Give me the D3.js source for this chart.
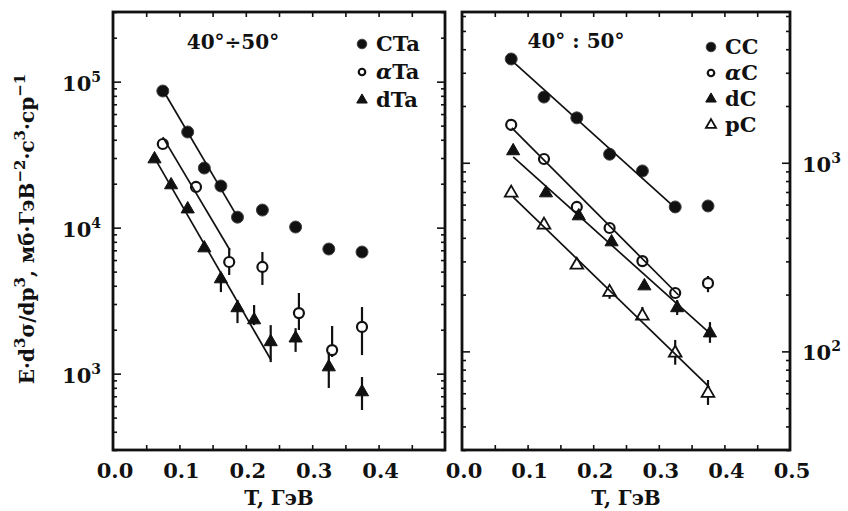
<!DOCTYPE html>
<html><head><meta charset="utf-8">
<script src="https://cdn.jsdelivr.net/npm/d3@7"></script>
<style>body{margin:0;background:#fff} svg{display:block}</style>
</head><body>
<svg id="c" width="848" height="511"></svg>
<script>
// ---------- data ----------
const xMajor = [0, 0.1, 0.2, 0.3, 0.4, 0.5];
const xAll = [0.05, 0.1, 0.15, 0.2, 0.25, 0.3, 0.35, 0.4, 0.45];
const leftXLabels = ["0.0", "0.1", "0.2", "0.3", "0.4"];
const rightXLabels = ["0.0", "0.1", "0.2", "0.3", "0.4", "0.5"];
const leftYTicks = [1e3, 1e4, 1e5];
const leftYExp = ["3", "4", "5"];
const rightYTicks = [1e2, 1e3];
const rightYExp = ["2", "3"];
const xTitle = "T, ГэВ";
const leftTitle = "40°÷50°";
const rightTitle = "40° : 50°";
const leftLegend = ["CTa", "αTa", "dTa"];
const rightLegend = ["CC", "αC", "dC", "pC"];

// left panel (Ta)
const ctaT = [0.075, 0.1125, 0.1375, 0.1625, 0.1875, 0.225, 0.275, 0.325, 0.375];
const ctaV = [86300, 45200, 25600, 19300, 11800, 13200, 10100, 7140, 6810];
const ctaFitT = [0.075, 0.19], ctaFitV = [88000, 11300];

const ataT = [0.075, 0.125, 0.175, 0.225, 0.28, 0.33, 0.375];
const ataV = [37400, 19000, 5820, 5380, 2600, 1450, 2090];
const ataHi = [null, null, 7250, 6810, 3570, 2120, 2860];
const ataLo = [null, null, 4740, 4050, 1990, 1300, 1340];
const ataFitT = [0.075, 0.176], ataFitV = [41700, 7030];

const dtaT = [0.0625, 0.0875, 0.1125, 0.1375, 0.1625, 0.1875, 0.2125, 0.2375, 0.275, 0.325, 0.375];
const dtaV = [29500, 19600, 13400, 7250, 4450, 2820, 2330, 1650, 1750, 1110, 749];
const dtaHi = [null, null, null, null, 4970, 3200, 2950, 2150, 2050, 1400, 949];
const dtaLo = [null, null, null, null, 3620, 2220, 2150, 1200, 1410, 798, 564];
const dtaFitT = [0.06, 0.238], dtaFitV = [31500, 1240];

// right panel (C)
const ccT = [0.075, 0.125, 0.175, 0.225, 0.275, 0.325, 0.375];
const ccV = [3550, 2230, 1730, 1110, 905, 583, 590];
const ccFitT = [0.073, 0.325], ccFitV = [3550, 576];

const acT = [0.075, 0.125, 0.175, 0.225, 0.275, 0.325, 0.375];
const acV = [1590, 1047, 583, 451, 301, 204, 230];
const acHi = [null, null, null, null, null, null, 251];
const acLo = [null, null, null, null, null, null, 206];
const acFitT = [0.076, 0.33], acFitV = [1530, 199];

const dcT = [0.078, 0.128, 0.178, 0.228, 0.278, 0.328, 0.378];
const dcV = [1155, 691, 522, 380, 222, 170, 125];
const dcHi = [null, null, null, null, null, 187, 143];
const dcLo = [null, null, null, null, null, 156, 111];
const dcFitT = [0.078, 0.381], dcFitV = [1074, 122];

const pcT = [0.075, 0.125, 0.175, 0.225, 0.275, 0.325, 0.375];
const pcV = [692, 468, 287, 206, 154, 98, 60];
const pcHi = [null, null, null, 222, 172, 115, 70.5];
const pcLo = [null, null, null, 190, 147, 85, 52];
const pcFitT = [0.078, 0.377], pcFitV = [658, 64.7];

// ---------- drawing ----------
const svg = d3.select("#c");
const FONT = "'DejaVu Serif', serif";
const Y0 = 12, Y1 = 450;

function makePanel(x0, x1, yDomain) {
  const x = d3.scaleLinear().domain([0, 0.5]).range([x0, x1]);
  const y = d3.scaleLog().domain(yDomain).range([Y1, Y0]);
  return {x, y, x0, x1};
}
const L = makePanel(113, 445, [300, 3e5]);
const R = makePanel(462, 790, [30, 6300]);

function frame(P, majorY) {
  const g = svg.append("g");
  const minor = P.y.ticks().filter(v => !majorY.some(m => Math.abs(m - v) / m < 1e-6));
  const mk = (axis, tr, vals, size) => {
    const a = g.append("g").attr("transform", tr)
      .call(axis.tickValues(vals).tickSize(size).tickSizeOuter(0).tickFormat(""));
    a.select(".domain").remove();
    a.selectAll("line").attr("stroke", "#111").attr("stroke-width", 1.6);
  };
  mk(d3.axisLeft(P.y), `translate(${P.x0},0)`, majorY, -8);
  mk(d3.axisLeft(P.y), `translate(${P.x0},0)`, minor, -4);
  mk(d3.axisRight(P.y), `translate(${P.x1},0)`, majorY, -8);
  mk(d3.axisRight(P.y), `translate(${P.x1},0)`, minor, -4);
  mk(d3.axisBottom(P.x), `translate(0,${Y1})`, xAll, -5);
  mk(d3.axisTop(P.x), `translate(0,${Y0})`, xAll, -5);
  g.append("rect").attr("x", P.x0).attr("y", Y0)
    .attr("width", P.x1 - P.x0).attr("height", Y1 - Y0)
    .attr("fill", "none").attr("stroke", "#111").attr("stroke-width", 2.8);
}
frame(L, leftYTicks);
frame(R, rightYTicks);

// x tick labels
function xLabels(P, labels) {
  svg.append("g").selectAll("text").data(labels).join("text")
    .attr("x", (d, i) => P.x(xMajor[i]) + 2).attr("y", 478)
    .attr("text-anchor", "middle").attr("font-family", FONT)
    .attr("font-weight", "bold").attr("font-size", 21).attr("fill", "#111")
    .text(d => d);
  svg.append("text").attr("x", (P.x0 + P.x1) / 2).attr("y", 505)
    .attr("text-anchor", "middle").attr("font-family", FONT)
    .attr("font-weight", "bold").attr("font-size", 20).attr("fill", "#111")
    .text(xTitle);
}
xLabels(L, leftXLabels);
xLabels(R, rightXLabels);

// y tick labels
function yLabels(P, ticks, exps, xpos, anchor) {
  ticks.forEach((v, i) => {
    const t = svg.append("text").attr("x", xpos).attr("y", P.y(v) + 9)
      .attr("text-anchor", anchor).attr("font-family", FONT)
      .attr("font-weight", "bold").attr("font-size", 21).attr("fill", "#111");
    t.append("tspan").text("10");
    t.append("tspan").attr("dy", -9).attr("font-size", 14).text(exps[i]);
  });
}
yLabels(L, leftYTicks, leftYExp, 101, "end");
yLabels(R, rightYTicks, rightYExp, 802, "start");

// y axis title
{
  const t = svg.append("text")
    .attr("transform", "translate(34,229) rotate(-90)")
    .attr("text-anchor", "middle").attr("font-family", FONT)
    .attr("font-weight", "bold").attr("font-size", 20).attr("fill", "#111");
  const parts = [["E·d", 0], ["3", 1], ["σ/dp", 0], ["3", 1], [", мб·ГэВ", 0], ["−2", 1],
                 ["·с", 0], ["3", 1], ["·ср", 0], ["−1", 1]];
  let up = false;
  parts.forEach(([s, sup]) => {
    const ts = t.append("tspan").text(s);
    if (sup && !up) { ts.attr("dy", -9).attr("font-size", 15); up = true; }
    else if (sup) { ts.attr("font-size", 15); }
    else if (up) { ts.attr("dy", 9); up = false; }
  });
}

// panel titles
svg.append("text").attr("x", 233).attr("y", 49).attr("text-anchor", "middle")
  .attr("font-family", FONT).attr("font-weight", "bold").attr("font-size", 20)
  .attr("fill", "#111").text(leftTitle);
svg.append("text").attr("x", 576).attr("y", 48).attr("text-anchor", "middle")
  .attr("font-family", FONT).attr("font-weight", "bold").attr("font-size", 20)
  .attr("fill", "#111").text(rightTitle);

// marker drawing
function marker(g, type, cx, cy, scale) {
  const s = scale || 1;
  if (type === "fc") {
    g.append("circle").attr("cx", cx).attr("cy", cy).attr("r", 6 * s)
      .attr("fill", "#111").attr("stroke", "#444").attr("stroke-width", 1);
  } else if (type === "oc") {
    g.append("circle").attr("cx", cx).attr("cy", cy).attr("r", 5 * s)
      .attr("fill", "#fff").attr("stroke", "#111").attr("stroke-width", 2.2);
  } else if (type === "ft") {
    g.append("path").attr("d", d3.symbol(d3.symbolTriangle, 75 * s * s)())
      .attr("transform", `translate(${cx},${cy})`)
      .attr("fill", "#111").attr("stroke", "#111").attr("stroke-width", 1);
  } else if (type === "ot") {
    g.append("path").attr("d", d3.symbol(d3.symbolTriangle, 70 * s * s)())
      .attr("transform", `translate(${cx},${cy})`)
      .attr("fill", "#fff").attr("stroke", "#111").attr("stroke-width", 1.8);
  }
}

function series(P, T, V, type, hi, lo, fitT, fitV) {
  const g = svg.append("g");
  if (hi) {
    T.forEach((t, i) => {
      if (hi[i] == null) return;
      g.append("line").attr("x1", P.x(t)).attr("x2", P.x(t))
        .attr("y1", P.y(hi[i])).attr("y2", P.y(lo[i]))
        .attr("stroke", "#111").attr("stroke-width", 2.2);
    });
  }
  T.forEach((t, i) => marker(g, type, P.x(t), P.y(V[i])));
  if (fitT) {
    g.append("line").attr("x1", P.x(fitT[0])).attr("y1", P.y(fitV[0]))
      .attr("x2", P.x(fitT[1])).attr("y2", P.y(fitV[1]))
      .attr("stroke", "#111").attr("stroke-width", 1.7);
  }
}

series(L, ctaT, ctaV, "fc", null, null, ctaFitT, ctaFitV);
series(L, ataT, ataV, "oc", ataHi, ataLo, ataFitT, ataFitV);
series(L, dtaT, dtaV, "ft", dtaHi, dtaLo, dtaFitT, dtaFitV);

series(R, ccT, ccV, "fc", null, null, ccFitT, ccFitV);
series(R, acT, acV, "oc", acHi, acLo, acFitT, acFitV);
series(R, dcT, dcV, "ft", dcHi, dcLo, dcFitT, dcFitV);
series(R, pcT, pcV, "ot", pcHi, pcLo, pcFitT, pcFitV);

// legends
function legend(labels, types, mx, ys) {
  const g = svg.append("g");
  labels.forEach((lab, i) => {
    marker(g, types[i], mx, ys[i], types[i] === "oc" ? 0.65 : 0.8);
    const t = g.append("text").attr("x", mx + 14).attr("y", ys[i] + 7)
      .attr("font-family", FONT).attr("font-weight", "bold").attr("font-size", 21)
      .attr("fill", "#111");
    if (lab[0] === "α") {
      t.append("tspan").attr("font-style", "italic").text("α");
      t.append("tspan").text(lab.slice(1));
    } else t.text(lab);
  });
}
legend(leftLegend, ["fc", "oc", "ft"], 362, [44, 72, 100]);
legend(rightLegend, ["fc", "oc", "ft", "ot"], 711, [47, 73, 99, 125]);
</script>
</body></html>
